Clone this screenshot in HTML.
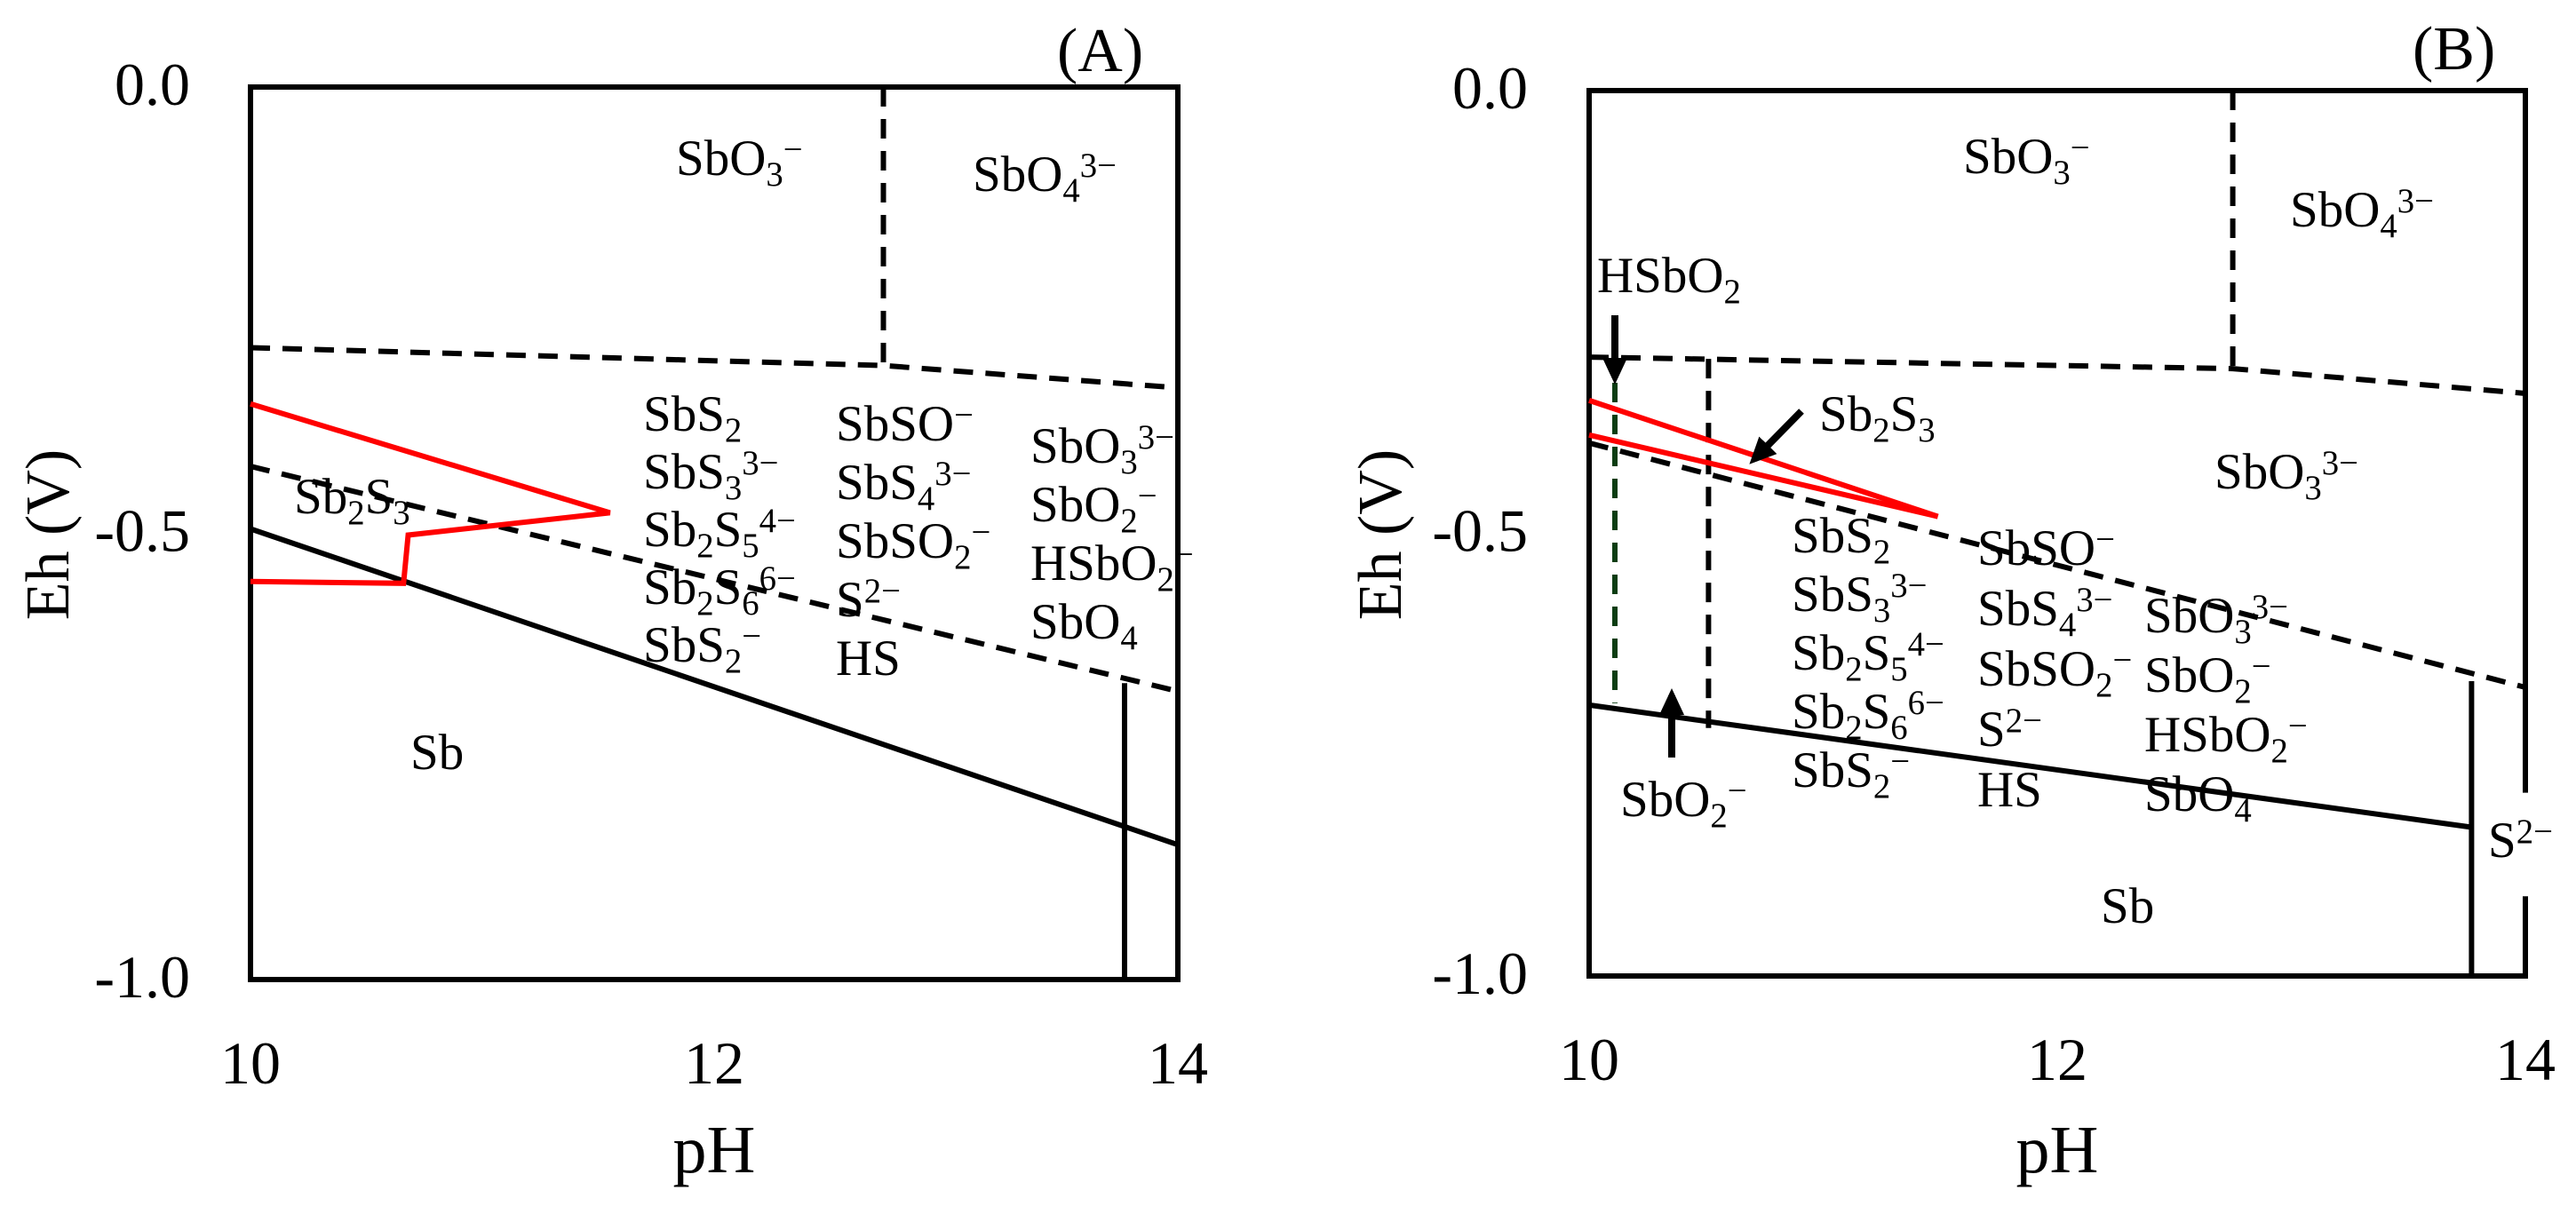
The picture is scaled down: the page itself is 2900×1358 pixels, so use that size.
<!DOCTYPE html>
<html><head><meta charset="utf-8">
<style>
html,body{margin:0;padding:0;background:#fff;}
svg{display:block;}
text{font-family:"Liberation Serif",serif;fill:#000;}
</style></head>
<body>
<svg id="chart" xmlns="http://www.w3.org/2000/svg" width="2900" height="1358" viewBox="0 0 2900 1358">
<defs>
<marker id="ah" markerWidth="30" markerHeight="30" refX="22" refY="15" orient="auto" markerUnits="userSpaceOnUse"><path d="M0,1 L30,15 L0,29 z" fill="#000"/></marker>
</defs>
</svg>
<script>
// ---- data (pH, Eh) ----
const xTicks = [10, 12, 14];
const yTicks = [0.0, -0.5, -1.0];
const yTickLabels = ["0.0", "-0.5", "-1.0"];

// Panel A
const aUpperDashPH = [10, 12.73, 14];
const aUpperDashEh = [-0.292, -0.312, -0.337];
const aVertDashPH = [12.73, 12.73];
const aVertDashEh = [0, -0.312];
const aLowerDashPH = [10, 14];
const aLowerDashEh = [-0.425, -0.677];
const aSolidPH = [10, 14];
const aSolidEh = [-0.495, -0.849];
const aVertSolidPH = [13.77, 13.77];
const aVertSolidEh = [-0.668, -1.0];
const aRedPH = [10, 11.55, 10.68, 10.66, 10];
const aRedEh = [-0.355, -0.477, -0.502, -0.556, -0.554];

// Panel B
const bUpperDashPH = [10, 12.75, 14];
const bUpperDashEh = [-0.301, -0.314, -0.342];
const bVertDashPH = [12.75, 12.75];
const bVertDashEh = [0, -0.314];
const bVert2DashPH = [10.51, 10.51];
const bVert2DashEh = [-0.303, -0.72];
const bGreenPH = [10.11, 10.11];
const bGreenEh = [-0.33, -0.692];
const bLowerDashPH = [10, 14];
const bLowerDashEh = [-0.398, -0.674];
const bSolidPH = [10, 13.77];
const bSolidEh = [-0.694, -0.832];
const bVertSolidPH = [13.77, 13.77];
const bVertSolidEh = [-0.667, -1.0];
const bRedUpperPH = [10, 11.49];
const bRedUpperEh = [-0.35, -0.481];
const bRedLowerPH = [10, 11.49];
const bRedLowerEh = [-0.389, -0.481];

const NS = "http://www.w3.org/2000/svg";
const svg = document.getElementById('chart');
const SW = 6;

function mkScale(l, r, t, b) {
  return {
    x: v => l + (v - 10) / 4 * (r - l),
    y: v => t + (-v) * (b - t),
    l, r, t, b
  };
}
const SA = mkScale(282, 1326, 98, 1103);
const SB = mkScale(1789, 2843, 102, 1099);

function el(tag, attrs, parent) {
  const e = document.createElementNS(NS, tag);
  for (const k in attrs) e.setAttribute(k, attrs[k]);
  (parent || svg).appendChild(e);
  return e;
}
function poly(S, xs, ys, stroke, dash, name) {
  const pts = xs.map((v, i) => S.x(v).toFixed(1) + ',' + S.y(ys[i]).toFixed(1)).join(' ');
  const p = el('polyline', {points: pts, fill: 'none', stroke: stroke, 'stroke-width': SW, 'stroke-linejoin': 'miter'});
  if (dash) p.setAttribute('stroke-dasharray', '22 14');
  
  
}
function label(str, x, y, size, name, anchor) {
  const t = el('text', {x: x, y: y, 'font-size': size});
  if (anchor) t.setAttribute('text-anchor', anchor);
  
  
  let off = 0, i = 0;
  const small = size * 0.68;
  let buf = '';
  const flush = () => { if (buf) { const s = el('tspan', {dy: -off}, t); s.textContent = buf; off = 0; buf = ''; } };
  while (i < str.length) {
    const c = str[i];
    if (c === '_') {
      flush();
      let j = i + 1, d = '';
      while (j < str.length && /[0-9]/.test(str[j])) { d += str[j]; j++; }
      const s = el('tspan', {dy: size * 0.21 - off, 'font-size': small}, t); s.textContent = d;
      off = size * 0.21; i = j;
    } else if (c === '^') {
      flush();
      const d = str.slice(i + 1);
      const s = el('tspan', {dy: -size * 0.28 - off, 'font-size': small}, t); s.textContent = d;
      off = -size * 0.28; i = str.length;
    } else { buf += c; i++; }
  }
  flush();
  return t;
}
function frame(S, name, gap) {
  if (!gap) {
    const r = el('rect', {x: S.l, y: S.t, width: S.r - S.l, height: S.b - S.t, fill: 'none', stroke: '#000', 'stroke-width': SW});
    
    
  } else {
    const p = el('path', {d: `M${S.r},${S.y(gap[0])} L${S.r},${S.t} L${S.l},${S.t} L${S.l},${S.b} L${S.r},${S.b} L${S.r},${S.y(gap[1])}`, fill: 'none', stroke: '#000', 'stroke-width': SW});
    
    
  }
}
function axes(S, p, tickRight, ehX) {
  xTicks.forEach(v => {
    const t = el('text', {x: S.x(v), y: S.b + 117, 'font-size': 68, 'text-anchor': 'middle'});
    
    
    t.textContent = v;
  });
  yTicks.forEach((v, i) => {
    const t = el('text', {x: tickRight, y: S.y(v) + 20, 'font-size': 68, 'text-anchor': 'end'});
    
    
    t.textContent = yTickLabels[i];
  });
  const xt = el('text', {x: (S.l + S.r) / 2, y: 1320, 'font-size': 76, 'text-anchor': 'middle'});
  
  
  xt.textContent = 'pH';
  const yt = el('text', {x: 0, y: 0, 'font-size': 70, 'text-anchor': 'middle', transform: `translate(${ehX},602) rotate(-90)`});
  
  
  yt.textContent = 'Eh (V)';
}
function arrow(x1, y1, x2, y2, name) {
  const a = el('line', {x1, y1, x2, y2, stroke: '#000', 'stroke-width': 8, 'marker-end': 'url(#ah)'});
  
  
}

// ---- Panel A ----
frame(SA, 'panel-a-frame');
poly(SA, aUpperDashPH, aUpperDashEh, '#000', true, 'a-upper-dashed-boundary');
poly(SA, aVertDashPH, aVertDashEh, '#000', true, 'a-vertical-dashed-boundary');
poly(SA, aLowerDashPH, aLowerDashEh, '#000', true, 'a-lower-dashed-boundary');
poly(SA, aSolidPH, aSolidEh, '#000', false, 'a-sb-boundary');
poly(SA, aVertSolidPH, aVertSolidEh, '#000', false, 'a-vertical-solid-boundary');
poly(SA, aRedPH, aRedEh, '#ff0000', false, 'a-sb2s3-region');
axes(SA, 'a', 214, 77);
label('(A)', 1190, 80, 70, 'panel-a-tag');
const LS = 57;
label('SbO_3^−', 761, 197, LS, 'a-label-sbo3');
label('SbO_4^3−', 1095, 215, LS, 'a-label-sbo4');
['SbS_2', 'SbS_3^3−', 'Sb_2S_5^4−', 'Sb_2S_6^6−', 'SbS_2^−'].forEach((s, i) => label(s, 724, 485 + i * 65, LS, 'a-label-sulfide'));
['SbSO^−', 'SbS_4^3−', 'SbSO_2^−', 'S^2−', 'HS'].forEach((s, i) => label(s, 941, 496 + i * 66, LS, 'a-label-sulfoxy'));
['SbO_3^3−', 'SbO_2^−', 'HSbO_2^−', 'SbO_4'].forEach((s, i) => label(s, 1160, 521 + i * 66, LS, 'a-label-oxy'));
label('Sb_2S_3', 331, 578, LS, 'a-label-sb2s3');
label('Sb', 462, 866, LS, 'a-label-sb');

// ---- Panel B ----
frame(SB, 'panel-b-frame', [-0.793, -0.91]);
poly(SB, bUpperDashPH, bUpperDashEh, '#000', true, 'b-upper-dashed-boundary');
poly(SB, bVertDashPH, bVertDashEh, '#000', true, 'b-vertical-dashed-boundary');
poly(SB, bVert2DashPH, bVert2DashEh, '#000', true, 'b-vertical-dashed-boundary-2');
poly(SB, bGreenPH, bGreenEh, '#0b3d12', true, 'b-green-dashed-boundary');
poly(SB, bLowerDashPH, bLowerDashEh, '#000', true, 'b-lower-dashed-boundary');
poly(SB, bSolidPH, bSolidEh, '#000', false, 'b-sb-boundary');
poly(SB, bVertSolidPH, bVertSolidEh, '#000', false, 'b-vertical-solid-boundary');
poly(SB, bRedUpperPH, bRedUpperEh, '#ff0000', false, 'b-sb2s3-upper');
poly(SB, bRedLowerPH, bRedLowerEh, '#ff0000', false, 'b-sb2s3-lower');
axes(SB, 'b', 1720, 1577);
label('(B)', 2716, 78, 70, 'panel-b-tag');
label('SbO_3^−', 2210, 195, LS, 'b-label-sbo3');
label('SbO_4^3−', 2578, 255, LS, 'b-label-sbo4');
label('HSbO_2', 1798, 329, LS, 'b-label-hsbo2');
label('Sb_2S_3', 2048, 485, LS, 'b-label-sb2s3');
label('SbO_3^3−', 2493, 550, LS, 'b-label-sbo3-3');
['SbS_2', 'SbS_3^3−', 'Sb_2S_5^4−', 'Sb_2S_6^6−', 'SbS_2^−'].forEach((s, i) => label(s, 2017, 622 + i * 66, LS, 'b-label-sulfide'));
['SbSO^−', 'SbS_4^3−', 'SbSO_2^−', 'S^2−', 'HS'].forEach((s, i) => label(s, 2226, 636 + i * 68, LS, 'b-label-sulfoxy'));
['SbO_3^3−', 'SbO_2^−', 'HSbO_2^−', 'SbO_4'].forEach((s, i) => label(s, 2414, 712 + i * 67, LS, 'b-label-oxy'));
label('SbO_2^−', 1824, 919, LS, 'b-label-sbo2');
label('S^2−', 2801, 965, LS, 'b-label-s2');
label('Sb', 2365, 1039, LS, 'b-label-sb');
arrow(1818, 355, 1818, 425, 'b-arrow-hsbo2');
arrow(2028, 463, 1975, 517, 'b-arrow-sb2s3');
arrow(1882, 853, 1882, 783, 'b-arrow-sbo2');
</script>
</body></html>
